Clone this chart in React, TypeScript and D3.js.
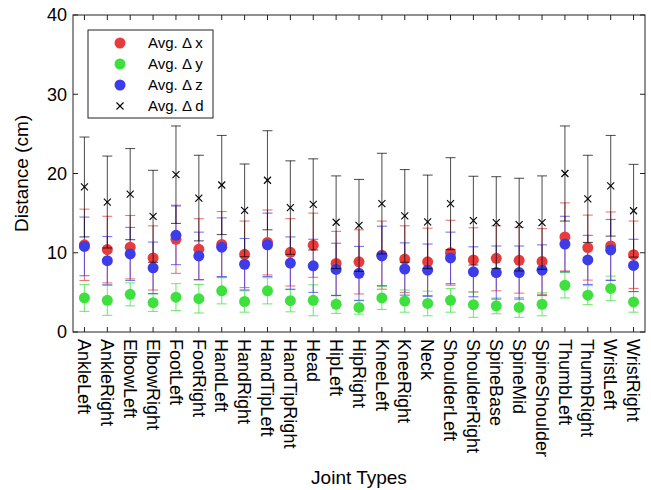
import * as d3 from "d3";

const joints = [
  "AnkleLeft", "AnkleRight", "ElbowLeft", "ElbowRight", "FootLeft", "FootRight",
  "HandLeft", "HandRight", "HandTipLeft", "HandTipRight", "Head", "HipLeft",
  "HipRight", "KneeLeft", "KneeRight", "Neck", "ShoulderLeft", "ShoulderRight",
  "SpineBase", "SpineMid", "SpineShoulder", "ThumbLeft", "ThumbRight", "WristLeft", "WristRight",
];
const xMean = [11.0, 10.4, 10.7, 9.35, 11.7, 10.45, 11.05, 9.8, 11.3, 10.05, 10.95, 8.65, 8.85, 9.7, 9.2, 8.85, 10.0, 9.1, 9.3, 9.05, 8.9, 12.0, 10.65, 10.85, 9.75];
const xErr = [4.5, 4.2, 4.0, 4.05, 4.3, 3.85, 4.15, 4.2, 4.1, 4.25, 4.05, 4.05, 4.05, 4.3, 4.2, 4.25, 4.1, 4.05, 4.1, 4.15, 4.15, 4.3, 4.1, 4.3, 4.25];
const yMean = [4.3, 4.0, 4.75, 3.7, 4.4, 4.2, 5.2, 3.85, 5.2, 3.95, 4.0, 3.5, 3.1, 4.3, 3.9, 3.6, 4.0, 3.45, 3.3, 3.1, 3.5, 5.9, 4.65, 5.5, 3.8];
const yErr = [1.7, 1.9, 1.45, 1.1, 1.7, 1.8, 1.65, 1.35, 1.65, 1.4, 1.95, 1.15, 0.85, 1.45, 1.4, 1.55, 1.5, 1.6, 1.0, 1.25, 1.45, 1.6, 1.2, 1.55, 1.3];
const zMean = [10.8, 9.0, 9.85, 8.1, 12.2, 9.6, 10.7, 8.55, 11.0, 8.7, 8.35, 7.9, 7.4, 9.6, 7.95, 7.8, 9.35, 7.6, 7.5, 7.5, 7.8, 11.1, 9.1, 10.35, 8.4];
const zErr = [3.7, 3.05, 3.35, 3.25, 3.7, 3.0, 3.7, 3.25, 4.0, 3.3, 3.35, 3.3, 3.4, 3.75, 3.3, 3.3, 3.25, 3.15, 3.35, 3.35, 3.2, 3.5, 3.1, 3.85, 3.3];
const dMean = [18.3, 16.4, 17.4, 14.6, 19.85, 16.9, 18.55, 15.35, 19.15, 15.7, 16.1, 13.85, 13.45, 16.2, 14.65, 13.9, 16.2, 14.05, 13.8, 13.55, 13.8, 20.0, 16.8, 18.45, 15.3];
const dErr = [6.3, 5.8, 5.75, 5.8, 6.15, 5.4, 6.25, 5.85, 6.25, 5.9, 5.75, 5.85, 5.8, 6.35, 5.85, 5.9, 5.8, 5.6, 5.8, 5.85, 5.9, 6.0, 5.5, 6.35, 5.85];
const yTicks = [0, 10, 20, 30, 40];

const W = 651;
const H = 490;
const FONT = "Arial, 'Liberation Sans', Helvetica, sans-serif";
const RED = "#e83c3c";
const GREEN = "#3ee03e";
const BLUE = "#3c3ce8";

export default function App() {
  const left = 73, right = 645, top = 15, bottom = 332;
  const x = d3.scalePoint<string>().domain(joints).range([left, right]).padding(0.5);
  const y = d3.scaleLinear().domain([0, 40]).range([bottom, top]);
  const cap = 5;

  const errBars = (means: number[], errs: number[], color: string, opacity: number) =>
    joints.map((j, i) => {
      const cx = x(j)!;
      const y1 = y(means[i] + errs[i]);
      const y2 = y(means[i] - errs[i]);
      return (
        <g key={j} stroke={color} strokeOpacity={opacity} strokeWidth={1.1}>
          <line x1={cx} x2={cx} y1={y1} y2={y2} />
          <line x1={cx - cap} x2={cx + cap} y1={y1} y2={y1} />
          <line x1={cx - cap} x2={cx + cap} y1={y2} y2={y2} />
        </g>
      );
    });

  const dots = (means: number[], color: string) =>
    joints.map((j, i) => <circle key={j} cx={x(j)!} cy={y(means[i])} r={5.5} fill={color} />);

  const cross = (cx: number, cy: number, key: string) => (
    <g key={key} stroke="#000" strokeWidth={1.1}>
      <line x1={cx - 3.5} x2={cx + 3.5} y1={cy - 3.5} y2={cy + 3.5} />
      <line x1={cx - 3.5} x2={cx + 3.5} y1={cy + 3.5} y2={cy - 3.5} />
    </g>
  );

  const legend = [
    { label: "Avg. Δ x", color: RED },
    { label: "Avg. Δ y", color: GREEN },
    { label: "Avg. Δ z", color: BLUE },
    { label: "Avg. Δ d", color: null },
  ];

  return (
    <svg width={W} height={H} style={{ display: "block", position: "absolute", left: 0, top: 0 }} fontFamily={FONT}>
      <rect width={W} height={H} fill="#fff" />
      {/* error bars */}
      {errBars(xMean, xErr, RED, 0.7)}
      {errBars(yMean, yErr, GREEN, 0.7)}
      {errBars(zMean, zErr, BLUE, 0.7)}
      {dots(xMean, RED)}
      {dots(yMean, GREEN)}
      {dots(zMean, BLUE)}
      {errBars(dMean, dErr, "#000", 0.65)}
      {joints.map((j, i) => cross(x(j)!, y(dMean[i]), j))}

      {/* frame */}
      <rect x={left} y={top} width={right - left} height={bottom - top} fill="none" stroke="#222" strokeWidth={1} />
      {joints.map((j) => (
        <g key={j} stroke="#222">
          <line x1={x(j)!} x2={x(j)!} y1={bottom} y2={bottom - 5} />
          <line x1={x(j)!} x2={x(j)!} y1={top} y2={top + 5} />
        </g>
      ))}
      {yTicks.map((t) => (
        <g key={t}>
          <line x1={left} x2={left + 5} y1={y(t)} y2={y(t)} stroke="#222" />
          <line x1={right} x2={right - 5} y1={y(t)} y2={y(t)} stroke="#222" />
          <text x={left - 6} y={y(t)} dy="0.35em" textAnchor="end" fontSize={18} fill="#000">{t}</text>
        </g>
      ))}
      {joints.map((j) => (
        <text key={j} transform={`translate(${x(j)},${bottom + 7}) rotate(90)`} dy="0.35em" fontSize={18} fill="#000">{j}</text>
      ))}

      {/* axis titles */}
      <text transform={`translate(28,${(top + bottom) / 2}) rotate(-90)`} textAnchor="middle" fontSize={19} fill="#000">Distance (cm)</text>
      <text x={(left + right) / 2} y={484} textAnchor="middle" fontSize={19} fill="#000">Joint Types</text>

      {/* legend */}
      <rect x={88} y={30} width={125} height={88} fill="#fff" stroke="#222" />
      {legend.map((l, i) => {
        const ly = 43 + i * 21;
        return (
          <g key={l.label}>
            {l.color ? <circle cx={120} cy={ly} r={5.5} fill={l.color} /> : cross(120, ly, "lg")}
            <text x={148} y={ly} dy="0.35em" fontSize={15} fill="#000">{l.label}</text>
          </g>
        );
      })}
    </svg>
  );
}
